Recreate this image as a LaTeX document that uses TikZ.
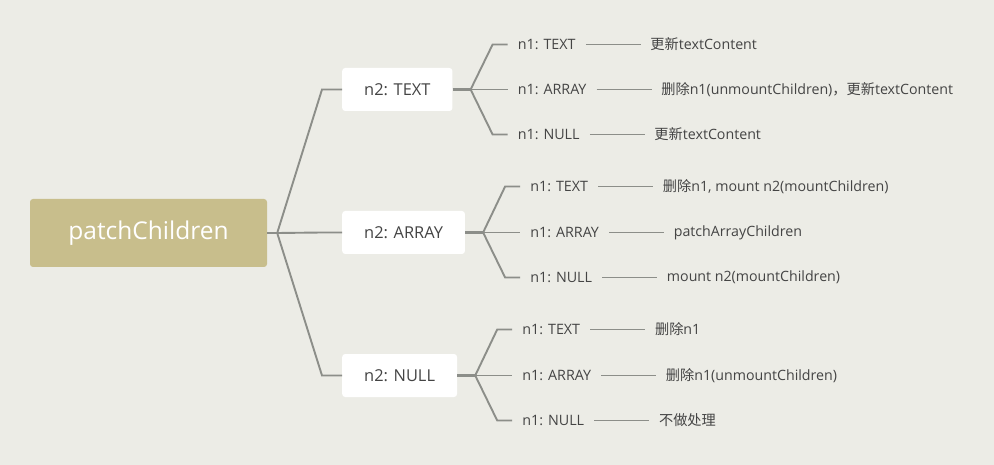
\documentclass[tikz,border=0pt]{standalone}
\usepackage{fontspec}
\setmainfont{Open Sans}
\newfontfamily\cjk{Noto Sans CJK SC}
\usetikzlibrary{positioning}
\definecolor{nen}{RGB}{236,236,230}
\definecolor{vang}{RGB}{200,190,140}
\definecolor{xam}{RGB}{140,142,137}
\definecolor{chu}{RGB}{68,68,68}
\begin{document}
\begin{tikzpicture}[x=1pt,y=-1pt]
\tikzset{rt/.style={fill=vang,text=white,rounded corners=3pt,minimum width=237pt,minimum height=68pt,font=\fontsize{24.5}{28}\selectfont},
bx/.style={fill=white,text=chu,rounded corners=3pt,inner xsep=22pt,minimum height=43pt,anchor=west,font=\fontsize{16.4}{19}\selectfont},
lb/.style={text=chu,inner xsep=10pt,inner ysep=2pt,anchor=west,font=\fontsize{14.3}{17}\selectfont},
lf/.style={text=chu,inner xsep=9.5pt,inner ysep=2pt,right=55pt of #1,font=\fontsize{14.2}{16}\selectfont},
ln/.style={draw=xam,line width=1.9pt}}
\fill[nen](0,0)rectangle(994,465);
\useasboundingbox(0,0)rectangle(994,465);
\node[rt](R) at (148.5,233){patchChildren};
\node[bx](T) at (342,89.5){n2: TEXT};
\node[bx](A) at (342,232.5){n2: ARRAY};
\node[bx](N) at (342,375.5){n2: NULL};
\coordinate(jR) at ([xshift=10pt]R.east);
\foreach \x in {T,A,N}\coordinate(j\x) at ([xshift=18pt]\x.east);
\path(jT)++(37,-45)node[lb](T1){n1: TEXT}++(0,45)node[lb](T2){n1: ARRAY}++(0,45)node[lb](T3){n1: NULL};
\path(jA)++(37,-46)node[lb](A1){n1: TEXT}++(0,46)node[lb](A2){n1: ARRAY}++(0,45)node[lb](A3){n1: NULL};
\path(jN)++(37,-46)node[lb](N1){n1: TEXT}++(0,46)node[lb](N2){n1: ARRAY}++(0,45)node[lb](N3){n1: NULL};
%%la
\node[lf=T1](t1){{\cjk 更新}textContent};
\node[lf=T2](t2){{\cjk 删除}n1(unmountChildren){\cjk ，更新}textContent};
\node[lf=T3](t3){{\cjk 更新}textContent};
\node[lf=A1](a1){{\cjk 删除}n1, mount n2(mountChildren)};
\node[lf=A2](a2){patchArrayChildren};
\node[lf=A3](a3){mount n2(mountChildren)};
\node[lf=N1](n1){{\cjk 删除}n1};
\node[lf=N2](n2){{\cjk 删除}n1(unmountChildren)};
\node[lf=N3](n3){{\cjk 不做处理}};
\draw[ln](R.east)--(jR);
\foreach \x/\z in {T/t,A/a,N/n}{
\draw[ln](jR)--([xshift=-20pt]\x.west)--(\x.west);
\draw[ln,line width=3pt](\x.east)--(j\x);
\foreach \y in {1,2,3}{
\draw[ln](j\x)--([xshift=-15pt]\x\y.west)--(\x\y.west);
\draw[ln](\x\y.east)--(\z\y.west);}}
\end{tikzpicture}
\end{document}
